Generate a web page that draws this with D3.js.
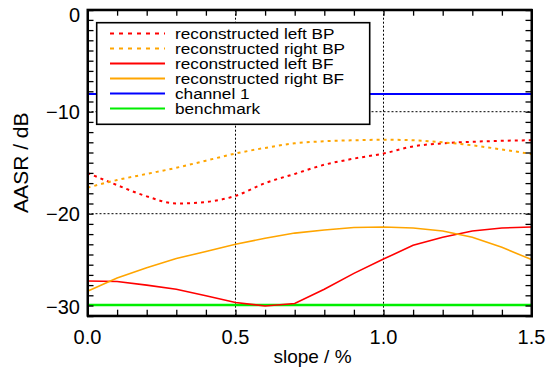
<!DOCTYPE html>
<html>
<head>
<meta charset="utf-8">
<script src="https://cdn.jsdelivr.net/npm/d3@7"></script>
<style>
  body { margin: 0; background: #fff; }
  text { font-family: "Liberation Sans", Arial, sans-serif; fill: #000; }
</style>
</head>
<body>
<div id="chart"></div>
<script>
const slope = [0.0, 0.1, 0.2, 0.3, 0.4, 0.5, 0.6, 0.7, 0.8, 0.9, 1.0, 1.1, 1.2, 1.3, 1.4, 1.5];

const leftBP = [-16.0, -17.2, -18.3, -19.0, -18.85, -18.25, -17.0, -16.1, -15.2, -14.6, -14.1, -13.4, -13.1, -12.95, -12.85, -12.8];
const rightBP = [-17.45, -16.7, -16.1, -15.5, -14.8, -14.1, -13.55, -13.1, -12.9, -12.8, -12.75, -12.8, -13.0, -13.3, -13.7, -14.15];
const leftBF = [-26.6, -26.65, -27.0, -27.4, -28.05, -28.7, -29.05, -28.8, -27.4, -25.85, -24.45, -23.1, -22.3, -21.7, -21.4, -21.3];
const rightBF = [-27.6, -26.3, -25.3, -24.4, -23.7, -23.0, -22.4, -21.9, -21.6, -21.35, -21.3, -21.4, -21.7, -22.3, -23.3, -24.5];
const channel1 = -8.27;
const benchmark = -28.95;

const xTicks = [0.0, 0.5, 1.0, 1.5];
const yTicks = [0, -10, -20, -30];

const seriesNames = ["reconstructed left BP", "reconstructed right BP", "reconstructed left BF", "reconstructed right BF", "channel 1", "benchmark"];
const seriesColors = ["#ff0000", "#ffa500", "#ff0000", "#ffa500", "#0000ff", "#00ee00"];
const seriesDashed = [true, true, false, false, false, false];

const margin = { top: 9.7, right: 15.5, bottom: 57.3, left: 87.5 };
const W = 547, H = 373;
const width = W - margin.left - margin.right;
const height = H - margin.top - margin.bottom;

const svg = d3.select("#chart").append("svg").attr("width", W).attr("height", H);
const g = svg.append("g").attr("transform", `translate(${margin.left},${margin.top})`);

const x = d3.scaleLinear().domain([0, 1.5]).range([0, width]);
const y = d3.scaleLinear().domain([-30, 0]).range([height, 0]);

// dotted grid at inner major ticks
g.selectAll(".gx").data([0.5, 1.0]).enter().append("line")
  .attr("x1", d => x(d)).attr("x2", d => x(d)).attr("y1", 0).attr("y2", height)
  .attr("stroke", "#000").attr("stroke-width", 1).attr("stroke-dasharray", "2,2");
g.selectAll(".gy").data([-10, -20]).enter().append("line")
  .attr("y1", d => y(d)).attr("y2", d => y(d)).attr("x1", 0).attr("x2", width)
  .attr("stroke", "#000").attr("stroke-width", 1).attr("stroke-dasharray", "2,2");

// flat lines
g.append("line").attr("x1", 0).attr("x2", width).attr("y1", y(channel1)).attr("y2", y(channel1))
  .attr("stroke", seriesColors[4]).attr("stroke-width", 2);
g.append("line").attr("x1", 0).attr("x2", width).attr("y1", y(benchmark)).attr("y2", y(benchmark))
  .attr("stroke", seriesColors[5]).attr("stroke-width", 2.5);

const smooth = d3.line().x((d, i) => x(slope[i])).y(d => y(d)).curve(d3.curveMonotoneX);
const straight = d3.line().x((d, i) => x(slope[i])).y(d => y(d));

[leftBP, rightBP].forEach((s, i) => {
  g.append("path").attr("d", smooth(s)).attr("fill", "none")
    .attr("stroke", seriesColors[i]).attr("stroke-width", 2).attr("stroke-dasharray", "3,4");
});
[leftBF, rightBF].forEach((s, i) => {
  g.append("path").attr("d", straight(s)).attr("fill", "none")
    .attr("stroke", seriesColors[i + 2]).attr("stroke-width", 1.6);
});

// axes, ticks pointing in on all four sides
const minorX = d3.range(0, 16).map(i => i / 10);
const minorY = d3.range(0, 31).map(i => -i);
g.append("g").attr("transform", `translate(0,${height})`)
  .call(d3.axisBottom(x).tickValues(minorX).tickSize(-6).tickFormat(""));
g.append("g").call(d3.axisTop(x).tickValues(minorX).tickSize(-6).tickFormat(""));
g.append("g").call(d3.axisLeft(y).tickValues(minorY).tickSize(-6).tickFormat(""));
g.append("g").attr("transform", `translate(${width},0)`)
  .call(d3.axisRight(y).tickValues(minorY).tickSize(-6).tickFormat(""));
g.selectAll(".domain").attr("stroke", "#000").attr("stroke-width", 2);
g.selectAll(".tick line").attr("stroke", "#000").attr("stroke-width", 1.3);

g.append("rect").attr("width", width).attr("height", height)
  .attr("fill", "none").attr("stroke", "#000").attr("stroke-width", 2);

// tick labels
g.selectAll(".xl").data(xTicks).enter().append("text")
  .attr("x", d => x(d)).attr("y", height + 28.5)
  .attr("text-anchor", "middle").style("font-size", "20px")
  .text(d3.format(".1f"));
const yShift = { "0": 5, "-30": -9 };
g.selectAll(".yl").data(yTicks).enter().append("text")
  .attr("x", -7.5).attr("y", d => y(d) + 7 + (yShift[d] || 0))
  .attr("text-anchor", "end").style("font-size", "20px")
  .text(d3.format("d"));

// axis titles
svg.append("text").attr("x", margin.left + width / 2 + 3).attr("y", 363)
  .attr("text-anchor", "middle").style("font-size", "19px").text("slope / %");
svg.append("text").attr("transform", `translate(28,${margin.top + height / 2}) rotate(-90)`)
  .attr("text-anchor", "middle").style("font-size", "21px").text("AASR / dB");

// legend (text is a bit stretched sideways in the original)
const lg = svg.append("g");
lg.append("rect").attr("x", 96.7).attr("y", 22.7).attr("width", 273).attr("height", 101.6)
  .attr("fill", "#fff").attr("stroke", "#000").attr("stroke-width", 1.6);
seriesNames.forEach((name, i) => {
  const ry = 33.5 + i * 15;
  lg.append("line").attr("x1", 110).attr("x2", 165).attr("y1", ry).attr("y2", ry)
    .attr("stroke", seriesColors[i]).attr("stroke-width", 2)
    .attr("stroke-dasharray", seriesDashed[i] ? "4,5" : null);
  lg.append("text").attr("transform", `translate(175,${ry + 5.5}) scale(1.11,1)`)
    .style("font-size", "15.5px").text(name);
});
</script>
</body>
</html>
